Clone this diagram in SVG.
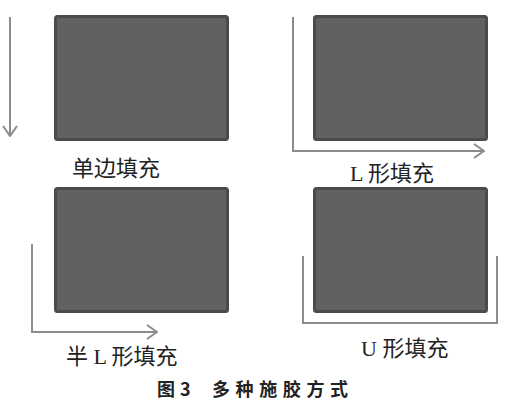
<svg xmlns="http://www.w3.org/2000/svg" width="511" height="400" viewBox="0 0 511 400">
<style>
.box{fill:#616161;stroke:#4b4b4b;stroke-width:3}
.ln{fill:none;stroke:#8c8c8c;stroke-width:2}
.lbl{font-family:"Liberation Serif","Noto Sans CJK SC",serif;font-size:22px;fill:#222}
.cap{font-family:"Noto Sans CJK SC",sans-serif;font-size:18px;font-weight:bold;fill:#222}
</style>
<defs>
<marker id="ah" viewBox="0 0 12 16" refX="11" refY="8" markerWidth="12" markerHeight="16" markerUnits="userSpaceOnUse" orient="auto">
<path d="M1,1 L11,8 L1,15" fill="none" stroke="#8c8c8c" stroke-width="2"/>
</marker>
</defs>
<rect width="511" height="400" fill="#fff"/>
<g id="node-single">
<rect class="box" x="55.5" y="16.5" width="172" height="123" rx="2"/>
<text class="lbl" x="72" y="176">单边填充</text>
</g>
<g id="node-l">
<rect class="box" x="314.5" y="16.5" width="172" height="123" rx="2"/>
<text class="lbl" x="350" y="181">L 形填充</text>
</g>
<g id="node-half-l">
<rect class="box" x="55.5" y="188.5" width="172" height="123" rx="2"/>
<text class="lbl" x="66" y="364">半 L 形填充</text>
</g>
<g id="node-u">
<rect class="box" x="314.5" y="188.5" width="172" height="123" rx="2"/>
<text class="lbl" x="361" y="356">U 形填充</text>
</g>
<g id="connectors">
<path class="ln" d="M10,17 V136" marker-end="url(#ah)"/>
<path class="ln" d="M293,17 V151 H484" marker-end="url(#ah)"/>
<path class="ln" d="M32,244 V332 H157" marker-end="url(#ah)"/>
<path class="ln" d="M303,256 V323 H497 V256"/>
</g>
<text class="cap" x="157" y="396">图 <tspan x="180">3</tspan> <tspan x="212" letter-spacing="5.6">多种施胶方式</tspan></text>
</svg>
